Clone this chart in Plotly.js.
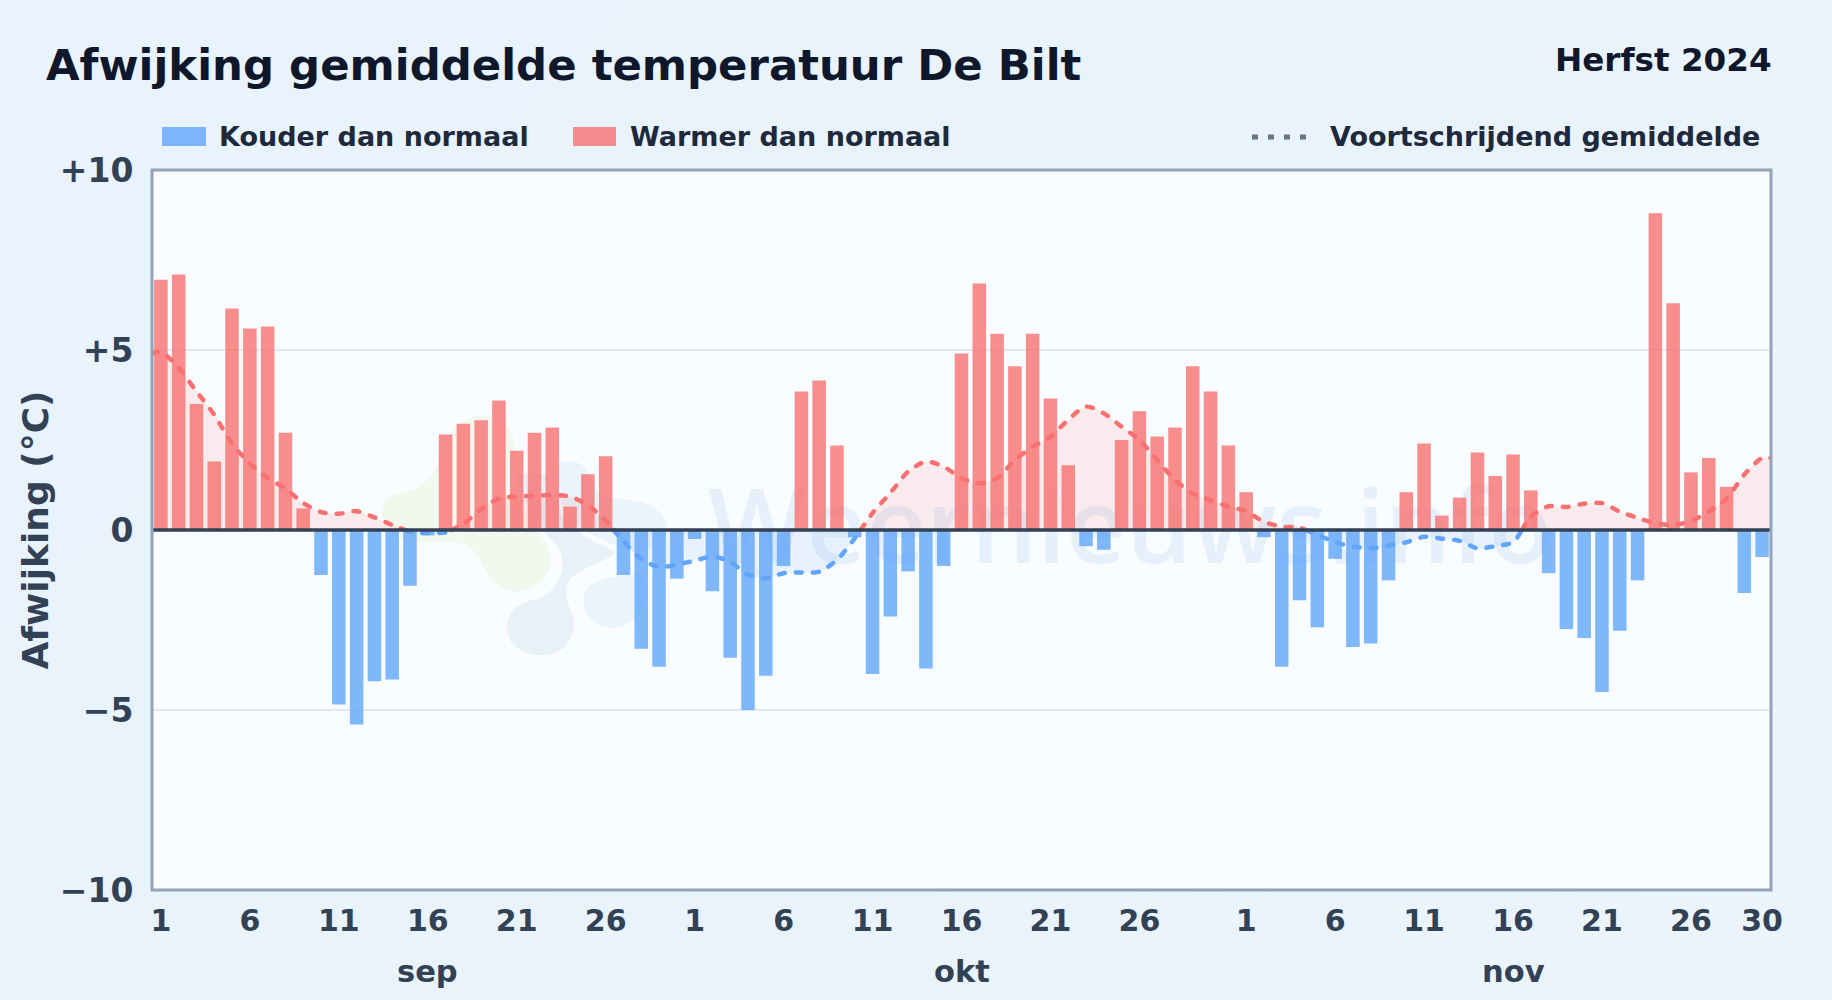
<!DOCTYPE html>
<html><head><meta charset="utf-8">
<script src="https://cdn.plot.ly/plotly-3.0.1.min.js"></script>
<style>
html,body{margin:0;padding:0;width:1832px;height:1000px;overflow:hidden;background:linear-gradient(135deg,#e8f3fd 0%,#e9f3fc 50%,#ebf4fb 100%);}
#chart{width:1832px;height:1000px;}
.scatterlayer .js-line{stroke-linecap:round;}
</style></head><body><div id="chart"></div>
<script>
const chartTitle = 'Afwijking gemiddelde temperatuur De Bilt';
const chartPeriod = 'Herfst 2024';
const legendCold = 'Kouder dan normaal';
const legendWarm = 'Warmer dan normaal';
const legendTrend = 'Voortschrijdend gemiddelde';
const yTitle = 'Afwijking (°C)';
const watermark = 'Weernieuws.info';

const anomalySep = [6.95,7.1,3.5,1.9,6.15,5.6,5.65,2.7,0.6,-1.25,-4.85,-5.4,-4.2,-4.15,-1.55,-0.15,2.65,2.95,3.05,3.6,2.2,2.7,2.85,0.65,1.55,2.05,-1.25,-3.3,-3.8,-1.35];
const anomalyOct = [-0.25,-1.7,-3.55,-5.0,-4.05,-1.0,3.85,4.15,2.35,-0.2,-4.0,-2.4,-1.15,-3.85,-1.0,4.9,6.85,5.45,4.55,5.45,3.65,1.8,-0.45,-0.55,2.5,3.3,2.6,2.85,4.55,3.85,2.35];
const anomalyNov = [1.05,-0.2,-3.8,-1.95,-2.7,-0.8,-3.25,-3.15,-1.4,1.05,2.4,0.4,0.9,2.15,1.5,2.1,1.1,-1.2,-2.75,-3.0,-4.5,-2.8,-1.4,8.8,6.3,1.6,2.0,1.2,-1.75,-0.75];
const anomaly = anomalySep.concat(anomalyOct, anomalyNov);
const dayIndex = anomaly.map((_, i) => i);

const trendDays = [-0.5,0,1,2,3,4,5,6,7,8,9,10,11,12,13,13.75,14,15,16,16.3,17,18,19,20,21,22,23,24,25,25.45,26,27,28,29,30,31,32,33,34,35,36,37,38,39,39.33,40,41,42,43,44,45,46,47,48,49,50,51,52,53,54,55,56,57,58,59,60,61,62,63,64,64.35,65,66,67,68,69,70,71,72,73,74,75,76,76.5,77,78,79,80,81,82,83,84,85,86,87,88,89,90,90.5];
const trendVals = [4.9,4.95,4.5,3.85,3.2,2.4,1.85,1.45,1.15,0.75,0.5,0.45,0.52,0.35,0.14,0,-0.05,-0.08,-0.07,0,0.17,0.58,0.87,0.93,0.95,0.97,0.93,0.69,0.26,0,-0.32,-0.8,-1.03,-0.96,-0.85,-0.74,-0.88,-1.25,-1.34,-1.2,-1.18,-1.16,-0.83,-0.23,0,0.47,1.03,1.62,1.9,1.76,1.44,1.3,1.44,1.94,2.31,2.59,3.06,3.43,3.24,2.87,2.5,1.94,1.39,1.02,0.83,0.65,0.52,0.23,0.09,0.07,0,-0.13,-0.34,-0.46,-0.51,-0.44,-0.34,-0.19,-0.24,-0.3,-0.51,-0.45,-0.34,0,0.37,0.66,0.64,0.73,0.75,0.51,0.34,0.19,0.14,0.25,0.51,0.87,1.54,2.0,2.0];

const tickDays = [0,5,10,15,20,25,30,35,40,45,50,55,61,66,71,76,81,86,90];
const tickText = ['1','6','11','16','21','26','1','6','11','16','21','26','1','6','11','16','21','26','30'];
const monthDays = [15,45,76];
const monthText = ['sep','okt','nov'];
const yTicks = [10,5,0,-5,-10];
const yTickText = ['+10','+5','0','−5','−10'];

const W=1832,H=1000,L=152,R=1771,T=170,B=890;
const fx = p => (p-L)/(R-L), fy = p => (B-p)/(B-T);
const FONT='"DejaVu Sans",sans-serif';
const RED='#f87171', BLUE='#60a5fa';

function blob(pts,fill){ // pts in zoom-crop pixels of the logo
  const P=pts.map(p=>[fx(360+p[0]/3),fy(390+p[1]/3)]);
  const n=P.length; const mid=(a,b)=>[(a[0]+b[0])/2,(a[1]+b[1])/2];
  let s=mid(P[n-1],P[0]); let d='M'+s[0]+','+s[1];
  for(let i=0;i<n;i++){const m=mid(P[i],P[(i+1)%n]); d+=' Q'+P[i][0]+','+P[i][1]+' '+m[0]+','+m[1];}
  d+=' Z';
  return {type:'path',xref:'paper',yref:'paper',layer:'below',path:d,fillcolor:fill,line:{color:'#fafcff',width:5}};
}
const logoGrey=[[330,260],[440,245],[590,240],[700,330],[770,420],[780,500],[700,530],[630,570],[620,620],[660,700],[620,790],[530,810],[440,770],[430,680],[480,630],[570,610],[610,520],[570,440],[430,430],[340,400]];
const logoBlue1=[[560,230],[620,195],[690,225],[720,320],[850,320],[930,380],[925,460],[830,500],[750,470],[650,420],[590,340]];
const logoBlue2=[[655,620],[690,570],[790,545],[870,545],[860,680],[760,730],[680,700]];
const logoGreen=[[55,380],[70,310],[210,280],[265,110],[350,60],[450,90],[480,180],[450,290],[560,440],[590,530],[530,600],[450,620],[380,570],[340,480],[280,460],[170,470],[80,440]];

const shapes=[
  blob(logoGrey,'#e8f0f8'),blob(logoBlue1,'#e9f4fd'),blob(logoBlue2,'#e9f4fd'),blob(logoGreen,'#f3f8ef'),
  {type:'rect',xref:'paper',yref:'paper',layer:'below',x0:fx(670),x1:fx(1590),y0:fy(589),y1:fy(469),line:{width:0},fillcolor:'rgba(0,0,0,0)',
    label:{text:watermark,textposition:'middle center',font:{family:'"Open Sans",sans-serif',size:104,weight:600,color:'#e6f0fa'}}},
  {type:'line',xref:'paper',yref:'y',x0:0,x1:1,y0:0,y1:0,layer:'above',line:{color:'#334155',width:3.5}},
  {type:'rect',xref:'paper',yref:'paper',x0:0,x1:1,y0:0,y1:1,layer:'above',fillcolor:'rgba(0,0,0,0)',line:{color:'#94a3b8',width:3}},
  {type:'rect',xref:'paper',yref:'paper',x0:fx(162),x1:fx(206),y0:fy(146),y1:fy(127),fillcolor:'rgba(96,165,250,.8)',line:{width:0}},
  {type:'rect',xref:'paper',yref:'paper',x0:fx(573),x1:fx(616),y0:fy(146),y1:fy(127),fillcolor:'rgba(248,113,113,.8)',line:{width:0}},
  {type:'line',xref:'paper',yref:'paper',x0:fx(1252),x1:fx(1310),y0:fy(137),y1:fy(137),line:{color:'#64748b',width:5,dash:'6px,10px'}}
];

function part(sign){
  const x=[],y=[];
  trendDays.forEach((d,i)=>{const v=trendVals[i]; const keep=sign>0? v>=0 : v<=0; x.push(d); y.push(keep? v: null);});
  return {x,y};
}
const warm=part(1), cool=part(-1);
function lineTrace(p,c,fill){return {type:'scatter',mode:'lines',x:p.x,y:p.y,connectgaps:false,fill:'tozeroy',fillcolor:fill,
  line:{color:c,width:4.5,dash:'6px,11px',shape:'spline',smoothing:0.8},hoverinfo:'skip',showlegend:false,opacity:0.92};}

const traces=[
  {type:'bar',x:dayIndex,y:anomaly,width:0.76,marker:{color:anomaly.map(v=>v>=0?'rgba(248,113,113,.8)':'rgba(96,165,250,.8)'),line:{width:0}},showlegend:false},
  lineTrace(warm,RED,'rgba(248,113,113,.13)'),
  lineTrace(cool,BLUE,'rgba(96,165,250,.11)')
];

const ann=(text,px,py,size,color,anchor)=>({text,xref:'paper',yref:'paper',x:fx(px),y:fy(py),xanchor:anchor,yanchor:'middle',showarrow:false,font:{family:FONT,size,color,weight:700},borderpad:0,borderwidth:0});
const annotations=[
  ann(chartPeriod,1772,60,32.6,'#0f172a','right'),
  ann(legendCold,219,137,27,'#1e293b','left'),
  ann(legendWarm,630,137,27,'#1e293b','left'),
  ann(legendTrend,1330,137,27,'#1e293b','left')
].concat(monthDays.map((d,i)=>({text:monthText[i],xref:'x',yref:'paper',x:d,y:fy(971),xanchor:'center',yanchor:'middle',showarrow:false,font:{family:FONT,size:30.5,color:'#334155',weight:700}})));

const layout={
  width:W,height:H,margin:{l:L,r:W-R,t:T,b:H-B,pad:0},
  paper_bgcolor:'rgba(0,0,0,0)',plot_bgcolor:'#f8fcff',
  font:{family:FONT},
  title:{text:chartTitle,x:46/W,xanchor:'left',y:1-65/H,yanchor:'middle',font:{family:FONT,size:43.4,color:'#0f172a',weight:700}},
  bargap:0.24,showlegend:false,
  xaxis:{range:[-0.5,90.5],tickmode:'array',tickvals:tickDays,ticktext:tickText,tickangle:0,showgrid:false,zeroline:false,
    showline:false,ticks:'outside',ticklen:4,tickcolor:'rgba(0,0,0,0)',
    tickfont:{family:FONT,size:30,color:'#334155',weight:700}},
  yaxis:{range:[-10,10],tickmode:'array',tickvals:yTicks,ticktext:yTickText,showgrid:true,gridcolor:'#e2e8f0',gridwidth:2,zeroline:false,
    showline:false,ticks:'outside',ticklen:11,tickcolor:'rgba(0,0,0,0)',
    tickfont:{family:FONT,size:33,color:'#334155',weight:700},
    title:{text:yTitle,standoff:0,font:{family:FONT,size:36,color:'#334155',weight:700}}},
  shapes,annotations,bargroupgap:0
};
Plotly.newPlot('chart',traces,layout,{displayModeBar:false,staticPlot:true});
</script></body></html>
